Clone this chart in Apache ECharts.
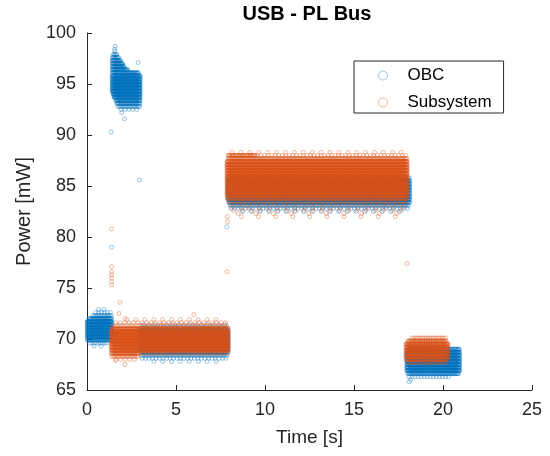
<!DOCTYPE html>
<html>
<head>
<meta charset="utf-8">
<script src="https://cdn.jsdelivr.net/npm/echarts@6/dist/echarts.min.js"></script>
<style>
html, body { margin: 0; padding: 0; background: #fff; }
#main { width: 550px; height: 456px; }
</style>
</head>
<body>
<div id="main"></div>
<script>
// Values. The power readings are quantized, so each
// cluster is kept as rows of [power mW, from s, to s, samples per second].
var xTicks = [0, 5, 10, 15, 20, 25];
var yTicks = [65, 70, 75, 80, 85, 90, 95, 100];

// OBC
var obcIdle = [
  [72.9, 0.5, 1.1, 3], [72.6, 0.4, 1.4, 6], [72.3, 0.3, 1.4, 14], [72.0, 0.1, 1.4, 30],
  [71.7, 0.0, 1.4, 55], [71.4, 0.0, 1.4, 55], [71.1, 0.0, 1.4, 55], [70.8, 0.0, 1.4, 55],
  [70.5, 0.0, 1.4, 55], [70.2, 0.0, 1.4, 55], [69.9, 0.0, 1.4, 30], [69.6, 0.1, 1.2, 8],
  [69.3, 0.2, 1.0, 3]
];
var obcBoot = [
  [98.2, 1.5, 1.65, 10], [97.9, 1.45, 1.7, 18], [97.6, 1.4, 1.8, 25], [97.3, 1.4, 1.9, 35],
  [97.0, 1.4, 2.0, 35], [96.7, 1.4, 2.1, 35], [96.4, 1.4, 2.3, 35], [96.1, 1.4, 2.9, 30],
  [95.8, 1.4, 3.0, 45], [95.5, 1.4, 3.0, 55], [95.2, 1.4, 3.0, 55], [94.9, 1.4, 3.0, 55],
  [94.6, 1.4, 3.0, 55], [94.3, 1.4, 3.0, 55], [94.0, 1.45, 3.0, 55], [93.7, 1.5, 3.0, 45],
  [93.4, 1.6, 3.0, 35], [93.1, 1.65, 3.0, 25], [92.8, 1.7, 3.0, 14], [92.5, 1.8, 2.9, 5]
];
var obcLow = [
  [71.4, 3.0, 7.9, 3], [71.1, 3.0, 7.95, 10], [70.8, 2.9, 7.95, 40], [70.5, 2.9, 7.95, 40],
  [70.2, 2.9, 7.95, 40], [69.9, 2.9, 7.95, 40], [69.6, 2.9, 7.95, 40], [69.3, 2.9, 7.95, 40],
  [69.0, 2.9, 7.95, 40], [68.7, 3.0, 7.95, 25], [68.4, 3.0, 7.9, 12], [68.1, 3.0, 7.9, 5],
  [67.8, 3.5, 7.5, 2]
];
var obcHigh = [
  [85.8, 7.9, 18.15, 15], [85.5, 7.9, 18.15, 40], [85.2, 7.9, 18.15, 40], [84.9, 7.9, 18.15, 40],
  [84.6, 7.9, 18.15, 40], [84.3, 7.9, 18.15, 40], [84.0, 7.9, 18.15, 40], [83.7, 7.9, 18.15, 40],
  [83.4, 7.95, 18.15, 30], [83.1, 8.0, 18.1, 12], [82.8, 8.0, 18.1, 5], [82.5, 8.5, 17.8, 2]
];
var obcEnd = [
  [69.0, 18.0, 20.95, 25], [68.7, 17.95, 20.95, 45], [68.4, 17.95, 20.95, 45], [68.1, 17.95, 20.95, 45],
  [67.8, 17.95, 20.95, 45], [67.5, 17.95, 20.95, 45], [67.2, 17.95, 20.95, 45], [66.9, 17.95, 20.95, 45],
  [66.6, 18.0, 20.9, 25], [66.3, 18.0, 20.4, 6], [66.0, 18.05, 18.3, 3]
];
var obcStray = [
  [1.58, 98.7], [1.55, 98.4], [2.0, 96.9], [2.87, 97.1], [1.95, 92.2], [2.1, 91.6],
  [1.35, 90.3], [2.95, 85.6], [1.38, 79.0], [7.85, 81.0], [18.1, 65.8]
];

// Subsystem
var subLow = [
  [71.9, 2.0, 7.5, 2], [71.6, 1.5, 7.9, 4], [71.3, 1.4, 7.9, 8], [71.0, 1.35, 7.95, 30],
  [70.7, 1.35, 7.95, 50], [70.4, 1.35, 7.95, 50], [70.1, 1.35, 7.95, 50], [69.8, 1.35, 7.95, 50],
  [69.5, 1.35, 7.95, 50], [69.2, 1.35, 7.95, 50], [68.9, 1.35, 7.95, 40], [68.6, 1.35, 2.9, 30],
  [68.6, 2.9, 7.95, 8], [68.3, 1.35, 2.9, 12], [68.0, 1.5, 2.8, 4]
];
var subHigh = [
  [88.3, 7.9, 17.9, 2], [88.0, 7.9, 18.0, 5], [88.0, 7.9, 9.5, 18], [87.7, 7.9, 18.0, 18],
  [87.4, 7.85, 18.0, 40], [87.1, 7.85, 18.0, 50], [86.8, 7.85, 18.0, 50], [86.5, 7.85, 18.0, 50],
  [86.2, 7.85, 18.0, 50], [85.9, 7.85, 18.0, 50], [85.6, 7.85, 18.0, 50], [85.3, 7.85, 18.0, 50],
  [85.0, 7.85, 18.0, 50], [84.7, 7.85, 18.0, 50], [84.4, 7.85, 18.0, 50], [84.1, 7.85, 18.0, 40],
  [83.8, 7.85, 18.0, 22], [83.5, 7.9, 18.0, 8], [83.2, 7.9, 18.0, 4], [82.9, 7.9, 18.0, 2],
  [82.6, 8.0, 17.9, 2], [82.3, 8.0, 17.9, 1], [82.0, 8.2, 17.8, 1]
];
var subEnd = [
  [70.1, 18.2, 20.2, 10], [69.8, 18.0, 20.2, 25], [69.5, 17.9, 20.3, 40], [69.2, 17.9, 20.3, 40],
  [68.9, 17.9, 20.3, 40], [68.6, 17.9, 20.3, 40], [68.3, 17.9, 20.3, 40], [68.0, 17.9, 20.3, 25],
  [67.7, 18.0, 20.2, 10]
];
var subStray = [
  [1.38, 80.8], [1.38, 77.1], [1.38, 76.6], [1.38, 76.3], [1.38, 76.0], [1.38, 75.6],
  [1.38, 75.3], [1.8, 72.5], [1.85, 73.6], [2.13, 72.0], [2.13, 67.5], [1.6, 67.9],
  [6.0, 72.4], [7.87, 76.6], [7.9, 81.5], [7.88, 82.0], [17.97, 77.4]
];

function rowsToPoints(rows) {
  var pts = [];
  rows.forEach(function (r) {
    var n = Math.max(1, Math.round((r[2] - r[1]) * r[3]));
    var step = (r[2] - r[1]) / n;
    for (var i = 0; i < n; i++) pts.push([r[1] + (i + 0.5) * step, r[0]]);
  });
  return pts;
}

var obcData = rowsToPoints(obcIdle.concat(obcBoot, obcLow, obcHigh, obcEnd)).concat(obcStray);
var subData = rowsToPoints(subLow.concat(subHigh, subEnd)).concat(subStray);

var ink = '#262626';
var font = 'Liberation Sans, Arial, Helvetica, sans-serif';
var blueEdge = 'rgba(0,114,189,0.5)';
var orangeEdge = 'rgba(217,83,25,0.5)';

var myChart = echarts.init(document.getElementById('main'));

var option = {
  animation: false,
  backgroundColor: '#fff',
  title: {
    text: 'USB - PL Bus',
    left: 307,
    top: 4,
    padding: 0,
    textAlign: 'center',
    textStyle: { fontFamily: font, fontSize: 20, fontWeight: 'bold', color: '#000' }
  },
  legend: {
    orient: 'vertical',
    left: 354,
    top: 61,
    padding: [5, 12, 1, 24],
    itemGap: 8,
    itemWidth: 39,
    itemHeight: 9,
    borderColor: ink,
    borderWidth: 1,
    backgroundColor: '#fff',
    textStyle: { fontFamily: font, fontSize: 17, color: '#000', lineHeight: 19 },
    data: [
      { name: 'OBC', icon: 'circle', itemStyle: { color: 'rgba(0,0,0,0)', borderColor: blueEdge, borderWidth: 1 } },
      { name: 'Subsystem', icon: 'circle', itemStyle: { color: 'rgba(0,0,0,0)', borderColor: orangeEdge, borderWidth: 1 } }
    ]
  },
  grid: { left: 87, right: 18, top: 33, bottom: 66 },
  xAxis: {
    type: 'value',
    min: xTicks[0],
    max: xTicks[xTicks.length - 1],
    interval: 5,
    name: 'Time [s]',
    nameLocation: 'middle',
    nameGap: 38,
    nameTextStyle: { fontFamily: font, fontSize: 19, color: ink },
    axisLine: { lineStyle: { color: ink, width: 1 } },
    axisTick: { inside: true, length: 5, lineStyle: { color: ink } },
    axisLabel: { margin: 11, fontFamily: font, fontSize: 18, color: ink },
    splitLine: { show: false }
  },
  yAxis: {
    type: 'value',
    min: yTicks[0],
    max: yTicks[yTicks.length - 1],
    interval: 5,
    name: 'Power [mW]',
    nameLocation: 'middle',
    nameGap: 53,
    nameTextStyle: { fontFamily: font, fontSize: 20, color: ink },
    axisLine: { show: true, lineStyle: { color: ink, width: 1 } },
    axisTick: { show: true, inside: true, length: 5, lineStyle: { color: ink } },
    axisLabel: { margin: 11, fontFamily: font, fontSize: 18, color: ink },
    splitLine: { show: false }
  },
  series: [
    {
      name: 'OBC',
      type: 'scatter',
      symbol: 'circle',
      symbolSize: 4,
      large: false,
      progressive: 0,
      data: obcData,
      itemStyle: { color: 'rgba(0,0,0,0)', borderColor: blueEdge, borderWidth: 1 },
      emphasis: { disabled: true }
    },
    {
      name: 'Subsystem',
      type: 'scatter',
      symbol: 'circle',
      symbolSize: 4,
      large: false,
      progressive: 0,
      data: subData,
      itemStyle: { color: 'rgba(0,0,0,0)', borderColor: orangeEdge, borderWidth: 1 },
      emphasis: { disabled: true }
    }
  ]
};

myChart.setOption(option);
</script>
</body>
</html>
